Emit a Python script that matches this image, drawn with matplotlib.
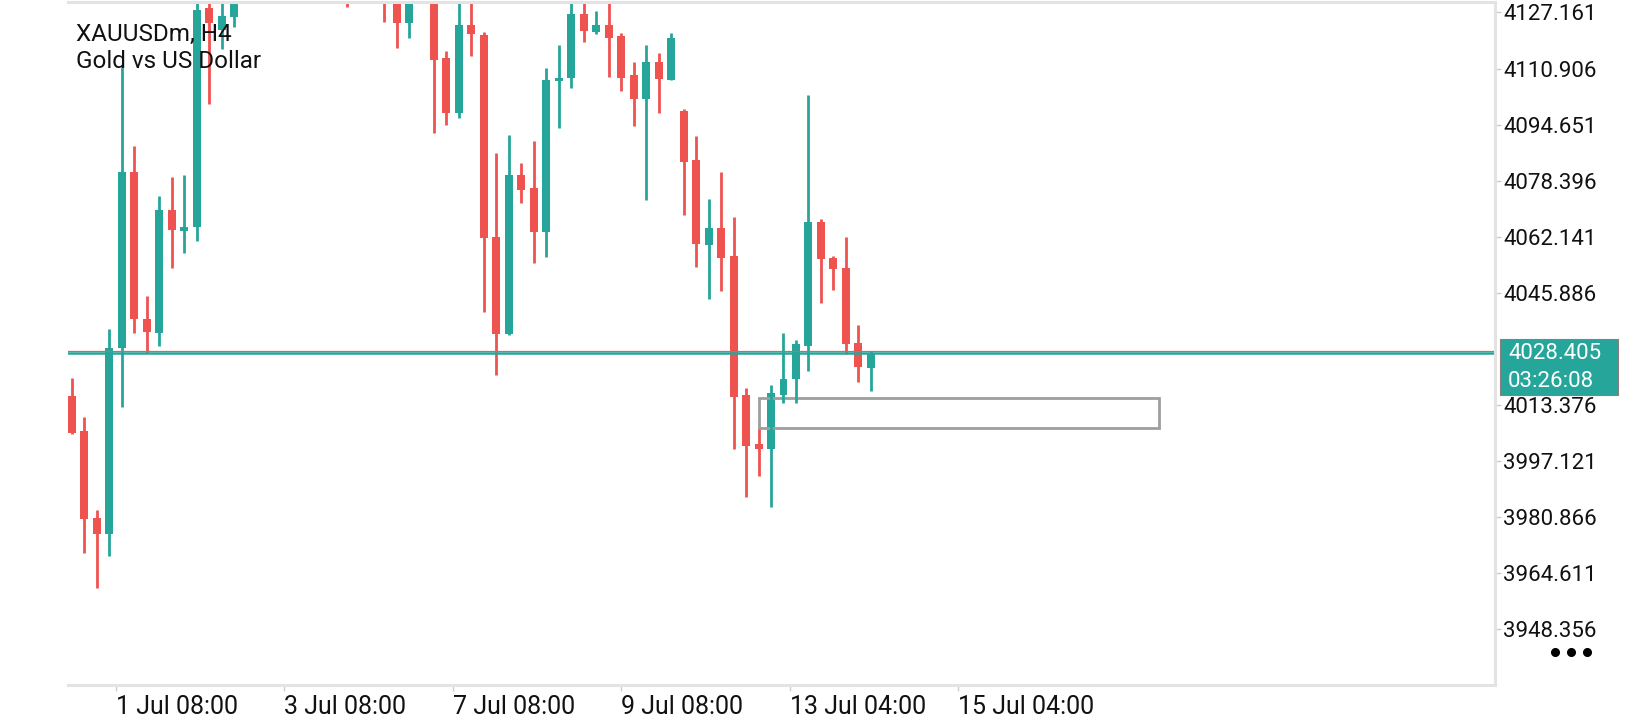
import matplotlib
matplotlib.use("Agg")
from matplotlib import pyplot as plt
from matplotlib.lines import Line2D
from matplotlib.patches import Rectangle
import matplotlib.transforms as mtransforms
import numpy as np

plt.rcParams['font.family'] = ['Roboto', 'DejaVu Sans']

# H4 candles (bars above 4130 are off-screen, estimated)
opens = [4016.0, 4005.8, 3980.5, 3975.9, 4029.8, 4081.0, 4038.4, 4034.3, 4070.0, 4063.8,
         4064.9, 4128.4, 4122.1, 4125.8, 4133.0, 4139.0, 4136.0, 4147.0, 4143.0, 4149.0,
         4154.0, 4146.0, 4140.0, 4134.0, 4139.0, 4136.0, 4131.5, 4124.2, 4133.0, 4140.0,
         4113.9, 4098.1, 4123.5, 4120.6, 4062.0, 4033.9, 4080.0, 4076.2, 4063.6, 4107.4,
         4108.3, 4126.7, 4121.6, 4123.5, 4120.3, 4109.0, 4102.0, 4112.7, 4107.6, 4098.6,
         4084.4, 4059.8, 4064.8, 4056.6, 4016.3, 4002.0, 4000.7, 4016.3, 4020.9, 4030.6,
         4066.3, 4055.9, 4053.0, 4031.3, 4024.0]
highs = [4021.1, 4009.8, 3982.9, 4035.4, 4111.8, 4088.5, 4044.9, 4074.0, 4079.6, 4080.1,
         4132.5, 4132.0, 4131.0, 4135.0, 4142.0, 4146.0, 4150.0, 4155.0, 4152.0, 4158.0,
         4160.0, 4151.0, 4145.0, 4143.0, 4144.0, 4140.0, 4134.0, 4138.0, 4145.0, 4146.0,
         4116.0, 4133.0, 4132.0, 4121.4, 4086.4, 4091.6, 4083.4, 4089.9, 4111.2, 4117.7,
         4131.5, 4131.0, 4127.6, 4130.8, 4121.1, 4112.7, 4117.7, 4115.5, 4121.1, 4099.2,
         4091.4, 4073.1, 4080.8, 4067.9, 4018.2, 4006.3, 4019.2, 4034.2, 4032.2, 4103.3,
         4067.2, 4056.6, 4062.0, 4036.6, 4029.1]
lows = [4005.0, 3970.6, 3960.4, 3969.6, 4012.9, 4034.2, 4028.4, 4030.6, 4053.1, 4057.3,
        4061.0, 4100.6, 4116.5, 4123.0, 4131.0, 4134.0, 4135.0, 4140.0, 4138.0, 4145.0,
        4144.0, 4137.0, 4128.7, 4131.0, 4132.0, 4124.5, 4116.8, 4119.7, 4131.0, 4092.1,
        4094.4, 4096.5, 4114.6, 4040.4, 4022.0, 4033.7, 4071.8, 4054.4, 4056.4, 4093.8,
        4105.2, 4118.7, 4120.8, 4108.6, 4104.5, 4094.3, 4072.8, 4098.0, 4107.6, 4068.5,
        4053.3, 4044.0, 4046.5, 4000.5, 3986.8, 3992.8, 3983.7, 4013.9, 4013.9, 4023.3,
        4042.9, 4046.7, 4028.1, 4019.9, 4017.5]
closes = [4005.3, 3980.2, 3975.9, 4029.9, 4081.0, 4038.2, 4034.5, 4070.0, 4064.0, 4065.1,
          4127.9, 4124.0, 4126.1, 4133.0, 4139.0, 4136.0, 4147.0, 4143.0, 4149.0, 4154.0,
          4146.0, 4140.0, 4134.0, 4139.0, 4136.0, 4131.0, 4124.2, 4133.0, 4140.0, 4113.4,
          4098.1, 4123.5, 4120.8, 4061.7, 4033.9, 4080.0, 4075.7, 4063.6, 4107.6, 4108.3,
          4126.7, 4121.9, 4123.5, 4119.9, 4108.3, 4102.0, 4112.7, 4107.8, 4119.7, 4083.9,
          4060.0, 4064.8, 4056.1, 4015.8, 4001.6, 4000.7, 4016.9, 4020.9, 4031.0, 4066.3,
          4055.6, 4052.7, 4031.0, 4024.3, 4028.405]

bid = 4028.405
ask = 4029.05
timer = "03:26:08"

tick_pos = [3.5, 17, 30.5, 44, 57.5, 71]
tick_labels = ['1 Jul 08:00', '3 Jul 08:00', '7 Jul 08:00', '9 Jul 08:00',
               '13 Jul 04:00', '15 Jul 04:00']
price_ticks = [4127.161, 4110.906, 4094.651, 4078.396, 4062.141, 4045.886,
               4013.376, 3997.121, 3980.866, 3964.611, 3948.356]

# zone box: bar index span and price span
zone_x = [55.0, 87.1]
zone_y = [4006.6, 4015.3]

UP = '#26a69a'
DOWN = '#ef5350'
FRAME = '#e3e3e3'

fig = plt.figure(figsize=(16.4, 7.2), dpi=100)
ax = fig.add_axes([68 / 1640, 1 - 685 / 720, (1495 - 68) / 1640, (685 - 2) / 720])

x = np.arange(len(opens))
o = np.array(opens)
c = np.array(closes)
colors = [UP if cc >= oo else DOWN for oo, cc in zip(o, c)]

ax.vlines(x, lows, highs, colors=colors, linewidth=2)
body_h = np.maximum(np.abs(c - o), 0.6)
ax.bar(x, body_h, bottom=np.minimum(o, c), width=0.64, color=colors, linewidth=0)

ax.axhline(ask, color='#d0665f', linewidth=0.9)
ax.axhline(bid, color=UP, linewidth=1.8)

ax.add_patch(Rectangle((zone_x[0], zone_y[0]), zone_x[1] - zone_x[0], zone_y[1] - zone_y[0],
                       fill=False, edgecolor='#9e9e9e', linewidth=2))

ax.set_xlim(-0.32, 114.0)
ax.set_ylim(3932.2, 4130.2)

ax.spines['left'].set_visible(False)
for side in ['top', 'right', 'bottom']:
    ax.spines[side].set_color(FRAME)
    ax.spines[side].set_linewidth(2.2)

ax.yaxis.tick_right()
ax.set_yticks(price_ticks)
ax.set_yticklabels([f'{p:.3f}' for p in price_ticks])
ax.tick_params(axis='y', length=4, width=1, color='#cccccc', pad=2, labelsize=16,
               labelcolor='#111111')
ax.set_xticks(tick_pos)
ax.set_xticklabels(tick_labels)
ax.tick_params(axis='x', length=4, width=1, color='#cccccc', pad=3, labelsize=18,
               labelcolor='#111111')
for lab in ax.get_xticklabels():
    lab.set_horizontalalignment('left')

# current price tag on the right
blend = mtransforms.blended_transform_factory(fig.transFigure, ax.transData)
px = 0.2899  # price per pixel
fig.add_artist(Rectangle((1500 / 1640, bid - 42 * px), 118 / 1640, 56 * px,
                         transform=blend, facecolor=UP, edgecolor='#8a7f7a',
                         linewidth=0.8, clip_on=False))
fig.text(1508 / 1640, bid, f'{bid:.3f}', transform=blend, color='white',
         fontsize=16, va='center', ha='left')
fig.text(1508 / 1640, bid - 28 * px, timer, transform=blend, color='white',
         fontsize=16, va='center', ha='left')

fig.text(76 / 1640, 1 - 34 / 720, 'XAUUSDm, H4', fontsize=17.5, va='center', ha='left',
         color='#111111')
fig.text(76 / 1640, 1 - 62 / 720, 'Gold vs US Dollar', fontsize=17.5, va='center', ha='left',
         color='#111111')

fig.add_artist(Line2D([1555 / 1640, 1571 / 1640, 1587 / 1640], [1 - 652 / 720] * 3,
                      transform=fig.transFigure, linestyle='', marker='o',
                      markersize=5.5, color='black'))

fig.savefig('out.png', dpi=100, facecolor='white')
